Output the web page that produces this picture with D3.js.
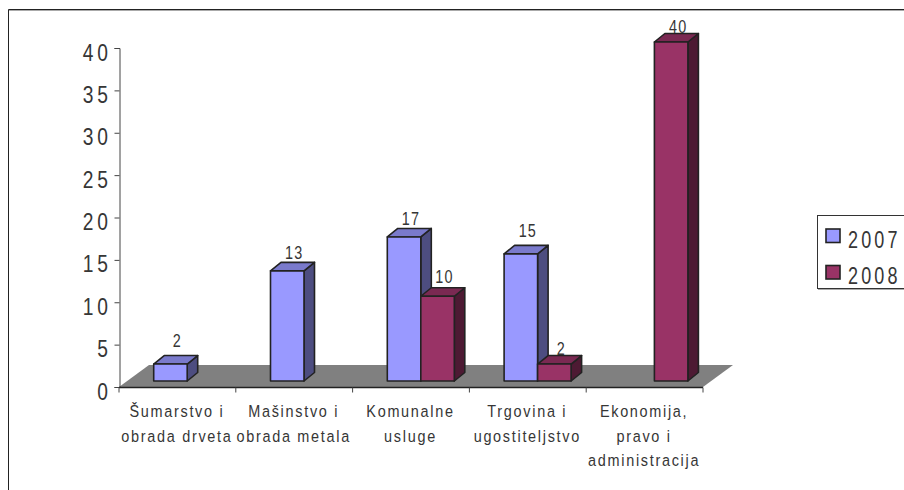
<!DOCTYPE html>
<html>
<head>
<meta charset="utf-8">
<script src="https://cdn.jsdelivr.net/npm/d3@7"></script>
<style>
body{margin:0;background:#fff;}
text{font-family:"Liberation Sans",Arial,sans-serif;fill:#363636;}
</style>
</head>
<body>
<div id="chart"></div>
<script>
var categories = [["Šumarstvo i","obrada drveta"],["Mašinstvo i","obrada metala"],["Komunalne","usluge"],["Trgovina i","ugostiteljstvo"],["Ekonomija,","pravo i","administracija"]];
var seriesNames = ["2007","2008"];
var values2007 = [2,13,17,15,null];
var values2008 = [null,null,10,2,40];
var yTicks = [0,5,10,15,20,25,30,35,40];

var colors = {
  "2007":{front:"#9999ff",top:"#7a7acc",side:"#4d4d80"},
  "2008":{front:"#993366",top:"#7a2952",side:"#4d1a33"}
};
// excel puts the value labels at slightly different heights
var labelGap = {"2007":[17,12,12,17,0],"2008":[0,0,13,9,9]};

var svg = d3.select("#chart").append("svg").attr("width",904).attr("height",490).style("display","block");

var idx = categories.map(function(d,i){return i;});
var x = d3.scaleBand().domain(idx).range([119,703]);
var y = d3.scaleLinear().domain([0,40]).range([387,48]);
var barW = 33.5, dx = 10.5, dy = 8.5, baseUp = 6, floorDx = 30, floorDy = 22;

// the picture's text is squeezed sideways, so every label goes through here
function label(parent,px,py,str,size,spacing,squeeze,anchor){
  return parent.append("text")
    .attr("transform","translate("+px+","+py+") scale("+squeeze+",1)")
    .attr("text-anchor",anchor||"middle")
    .attr("font-size",size)
    .attr("letter-spacing",spacing)
    .text(str);
}

// outer frame, runs off the page on the right and bottom
svg.append("path").attr("d","M8.5,490V9.5H904").attr("fill","none").attr("stroke","#222").attr("stroke-width",1);
svg.append("path").attr("d","M9,10.5H904").attr("fill","none").attr("stroke","#aaa").attr("stroke-width",1);

// floor
svg.append("path")
  .attr("d","M"+[[119,387],[703,387],[703+floorDx,387-floorDy],[119+floorDx,387-floorDy]].join("L")+"Z")
  .attr("fill","#808080");

// axes
var gy = svg.append("g").attr("transform","translate(119.5,0)")
  .call(d3.axisLeft(y).tickValues(yTicks).tickSize(5).tickFormat(""));
gy.select(".domain").attr("stroke","#444");
gy.selectAll("line").attr("stroke","#444");
yTicks.forEach(function(t){
  label(svg,112,y(t)+12.5,t,24,5,.8,"end");
});

var gx = svg.append("g").attr("transform","translate(0,387.5)");
gx.append("line").attr("x1",119).attr("x2",703).attr("stroke","#222").attr("stroke-width",1.3);
gx.selectAll("line.tick").data(idx.concat([5])).enter().append("line").attr("class","tick")
  .attr("x1",function(d){return d<5?x(d):x.range()[1];})
  .attr("x2",function(d){return d<5?x(d):x.range()[1];})
  .attr("y1",0).attr("y2",5).attr("stroke","#444");

// category labels
categories.forEach(function(lines,i){
  lines.forEach(function(s,j){
    label(svg,x(i)+x.bandwidth()/2-0.5,417+j*24.5,s,17,2,.85);
  });
});

// bars, left to right so each one overlaps the one before
function drawBar(name,i,v,pos){
  if(v==null)return;
  var c = colors[name];
  var mid = x(i)+x.bandwidth()/2+dx-0.7;
  var x0 = mid+(pos-1)*barW, x1 = x0+barW;
  var top = y(v)-baseUp, bot = y(0)-baseUp;
  var g = svg.append("g").attr("stroke","#222").attr("stroke-width",1.6).attr("stroke-linejoin","round");
  g.append("path").attr("fill",c.side)
    .attr("d","M"+[[x1,top],[x1+dx,top-dy],[x1+dx,bot-dy],[x1,bot]].join("L")+"Z");
  g.append("path").attr("fill",c.top)
    .attr("d","M"+[[x0,top],[x0+dx,top-dy],[x1+dx,top-dy],[x1,top]].join("L")+"Z");
  g.append("rect").attr("x",x0).attr("y",top).attr("width",barW).attr("height",bot-top).attr("fill",c.front);
  label(svg,x0+barW/2+7,top-labelGap[name][i],v,18,1.5,.8);
}
idx.forEach(function(i){
  drawBar("2007",i,values2007[i],0);
  drawBar("2008",i,values2008[i],1);
});

// legend
var legend = svg.append("g");
legend.append("path").attr("d","M818,289.5H904").attr("stroke","#aaa");
legend.append("rect").attr("x",817.5).attr("y",215.5).attr("width",100).attr("height",73).attr("fill","#fff").attr("stroke","#333");
seriesNames.forEach(function(n,i){
  legend.append("rect").attr("x",826).attr("y",229+i*36.5).attr("width",14).attr("height",13.5)
    .attr("fill",colors[n].front).attr("stroke","#222").attr("stroke-width",1.6);
  label(legend,848,248+i*36,n,24,4.2,.75,"start");
});
</script>
</body>
</html>
